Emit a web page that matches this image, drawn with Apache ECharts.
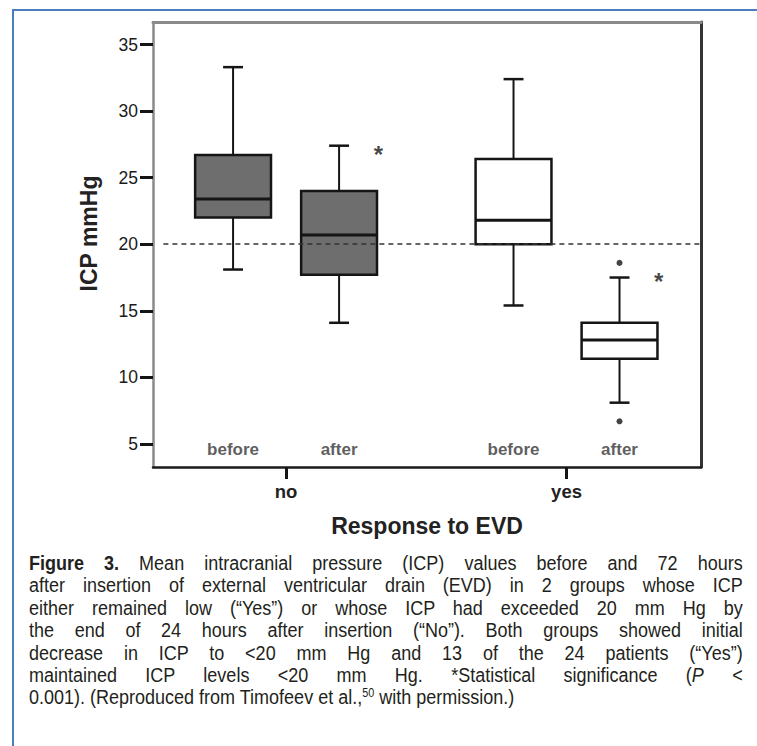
<!DOCTYPE html>
<html>
<head>
<meta charset="utf-8">
<script src="https://cdn.jsdelivr.net/npm/echarts@6/dist/echarts.min.js"></script>
<style>
html,body{margin:0;padding:0;background:#fff;}
#wrap{position:relative;width:757px;height:746px;overflow:hidden;background:#fff;}
#frame{position:absolute;left:12px;top:9px;width:800px;height:800px;border-top:2px solid #4a7ebf;border-left:2px solid #4a7ebf;}
#chart{position:absolute;left:0;top:0;width:757px;height:746px;}
#caption{position:absolute;left:29px;top:552px;width:793px;transform:scaleX(0.9);transform-origin:0 0;font-family:'Liberation Sans',Arial,sans-serif;font-size:20px;line-height:22.4px;color:#231f20;}
#caption .j{text-align:justify;text-align-last:justify;white-space:nowrap;height:22.4px;}
#caption .l{text-align:left;white-space:nowrap;height:22.4px;}
#caption sup{font-size:12px;line-height:0;vertical-align:7px;}
</style>
</head>
<body>
<div id="wrap">
  <div id="frame"></div>
  <div id="chart"></div>
  <div id="caption">
    <div class="j"><b>Figure 3.</b> Mean intracranial pressure (ICP) values before and 72 hours</div>
    <div class="j">after insertion of external ventricular drain (EVD) in 2 groups whose ICP</div>
    <div class="j">either remained low (“Yes”) or whose ICP had exceeded 20 mm Hg by</div>
    <div class="j">the end of 24 hours after insertion (“No”). Both groups showed initial</div>
    <div class="j">decrease in ICP to &lt;20 mm Hg and 13 of the 24 patients (“Yes”)</div>
    <div class="j">maintained ICP levels &lt;20 mm Hg. *Statistical significance (<i>P</i> &lt;</div>
    <div class="l">0.001). (Reproduced from Timofeev et al.,<sup>50</sup> with permission.)</div>
  </div>
</div>
<script>
// ---- data ----
const groupNames = ['no', 'yes'];
const phaseNames = ['before', 'after'];
const yTickValues = [5, 10, 15, 20, 25, 30, 35];
// box statistics: [min, Q1, median, Q3, max] (ICP mmHg)
const noBefore  = [18.1, 22.0, 23.4, 26.7, 33.3];
const noAfter   = [14.1, 17.7, 20.7, 24.0, 27.4];
const yesBefore = [15.4, 20.0, 21.8, 26.4, 32.4];
const yesAfter  = [8.1, 11.4, 12.8, 14.1, 17.5];
const yesAfterOutliers = [18.6, 6.7];
const thresholdICP = 20;
const asteriskLevels = [27.1, 17.6]; // no-after, yes-after

// ---- layout (positions on hidden x scale) ----
const groupPos = { no: 1, yes: 3 };
const phaseOffset = { before: -0.378, after: 0.378 };
const boxWidth = 0.541;
const capWidth = 0.142;
const labelLevel = 4.6;
const asteriskShift = 0.28;

const boxes = [
  { g: 'no', p: 'before', s: noBefore, fill: '#6e6e6e' },
  { g: 'no', p: 'after', s: noAfter, fill: '#6e6e6e' },
  { g: 'yes', p: 'before', s: yesBefore, fill: '#ffffff' },
  { g: 'yes', p: 'after', s: yesAfter, fill: '#ffffff' }
];
const xOf = (g, p) => groupPos[g] + phaseOffset[p];
const boxData = boxes.map(b => [xOf(b.g, b.p)].concat(b.s));
const boxFills = boxes.map(b => b.fill);
const outlierData = yesAfterOutliers.map(v => [xOf('yes', 'after'), v]);
const phaseLabelData = boxes.map(b => [xOf(b.g, b.p), labelLevel, b.p]);
const asteriskData = [
  [xOf('no', 'after') + asteriskShift, asteriskLevels[0]],
  [xOf('yes', 'after') + asteriskShift, asteriskLevels[1]]
];

const FONT = "'Liberation Sans', Arial, sans-serif";
const chart = echarts.init(document.getElementById('chart'), null, { renderer: 'svg' });
const ink = '#151515';
const hidden = 'rgba(0,0,0,0)';
const option = {
  animation: false,
  backgroundColor: 'transparent',
  grid: { left: 153, right: 56, top: 22, bottom: 279, containLabel: false },
  xAxis: [
    {
      type: 'value', min: 0.051, max: 3.959, position: 'bottom',
      name: 'Response to EVD', nameLocation: 'middle', nameGap: 47,
      nameTextStyle: { fontFamily: FONT, fontWeight: 'bold', fontSize: 23, color: '#222' },
      axisLine: { show: true, onZero: false, lineStyle: { color: '#1a1a1a', width: 2.5 } },
      axisTick: { show: true, length: 12, lineStyle: { color: ink, width: 3 }, customValues: groupNames.map(g => groupPos[g]) },
      axisLabel: {
        show: true, margin: 15, fontFamily: FONT, fontWeight: 'bold', fontSize: 18.5, color: '#222',
        customValues: groupNames.map(g => groupPos[g]),
        formatter: v => groupNames.find(g => Math.abs(groupPos[g] - v) < 1e-6) || ''
      },
      splitLine: { show: false }
    },
    {
      type: 'value', min: 0.051, max: 3.959, position: 'top',
      axisLine: { show: true, onZero: false, lineStyle: { color: '#8a8a8a', width: 3 } },
      axisTick: { show: false }, axisLabel: { show: false }, splitLine: { show: false }
    }
  ],
  yAxis: [
    {
      type: 'value', min: 3.27, max: 36.69, position: 'left',
      name: 'ICP mmHg', nameLocation: 'middle', nameGap: 53, nameRotate: 90,
      nameTextStyle: { fontFamily: FONT, fontWeight: 'bold', fontSize: 23, color: '#222', padding: [0, 0, 0, 22] },
      axisLine: { show: true, onZero: false, lineStyle: { color: '#8a8a8a', width: 2.5 } },
      axisTick: { show: true, length: 13, lineStyle: { color: ink, width: 3 }, customValues: yTickValues },
      axisLabel: { show: true, margin: 15, fontFamily: FONT, fontSize: 17.5, color: '#1a1a1a', customValues: yTickValues },
      splitLine: { show: false }
    },
    {
      type: 'value', min: 3.27, max: 36.69, position: 'right',
      axisLine: { show: true, onZero: false, lineStyle: { color: '#333', width: 3 } },
      axisTick: { show: false }, axisLabel: { show: false }, splitLine: { show: false }
    }
  ],
  series: [
    {
      type: 'custom', name: 'boxes', z: 2,
      xAxisIndex: 0, yAxisIndex: 0,
      data: boxData,
      encode: { x: 0, y: [1, 2, 3, 4, 5] },
      renderItem: function (params, api) {
        const x = api.value(0);
        const lo = api.coord([x, api.value(1)]);
        const q1 = api.coord([x, api.value(2)]);
        const md = api.coord([x, api.value(3)]);
        const q3 = api.coord([x, api.value(4)]);
        const hi = api.coord([x, api.value(5)]);
        const cx = lo[0];
        const bw = api.size([boxWidth, 0])[0];
        const cw = api.size([capWidth, 0])[0];
        const st = { stroke: ink, lineWidth: 2 };
        return {
          type: 'group',
          children: [
            { type: 'line', shape: { x1: cx, y1: hi[1], x2: cx, y2: q3[1] }, style: st },
            { type: 'line', shape: { x1: cx, y1: q1[1], x2: cx, y2: lo[1] }, style: st },
            { type: 'line', shape: { x1: cx - cw / 2, y1: hi[1], x2: cx + cw / 2, y2: hi[1] }, style: { stroke: ink, lineWidth: 2.5 } },
            { type: 'line', shape: { x1: cx - cw / 2, y1: lo[1], x2: cx + cw / 2, y2: lo[1] }, style: { stroke: ink, lineWidth: 2.5 } },
            { type: 'rect', shape: { x: cx - bw / 2, y: q3[1], width: bw, height: q1[1] - q3[1] },
              style: { fill: boxFills[params.dataIndex], stroke: ink, lineWidth: 2.5 } },
            { type: 'line', shape: { x1: cx - bw / 2, y1: md[1], x2: cx + bw / 2, y2: md[1] }, style: { stroke: ink, lineWidth: 3 } }
          ]
        };
      }
    },
    {
      type: 'scatter', name: 'outliers', z: 3,
      data: outlierData, symbol: 'circle', symbolSize: 6,
      itemStyle: { color: ink }
    },
    {
      type: 'scatter', name: 'phase', z: 3,
      data: phaseLabelData, symbol: 'circle', symbolSize: 1,
      itemStyle: { color: hidden },
      label: {
        show: true, position: 'inside', formatter: p => p.value[2],
        fontFamily: FONT, fontWeight: 'bold', fontSize: 17, color: '#333'
      }
    },
    {
      type: 'scatter', name: 'significance', z: 3,
      data: asteriskData, symbol: 'circle', symbolSize: 1,
      itemStyle: { color: hidden },
      label: {
        show: true, position: 'inside', formatter: '*', offset: [0, 5],
        fontFamily: FONT, fontWeight: 'bold', fontSize: 24, color: ink
      }
    },
    {
      type: 'line', name: 'threshold', z: 5, data: [],
      markLine: {
        silent: true, symbol: 'none', label: { show: false },
        lineStyle: { color: '#333', width: 1.5, type: [5, 4] },
        data: [[{ coord: [0.125, thresholdICP] }, { coord: [3.959, thresholdICP] }]]
      }
    }
  ]
};
chart.setOption(option);
</script>
</body>
</html>
